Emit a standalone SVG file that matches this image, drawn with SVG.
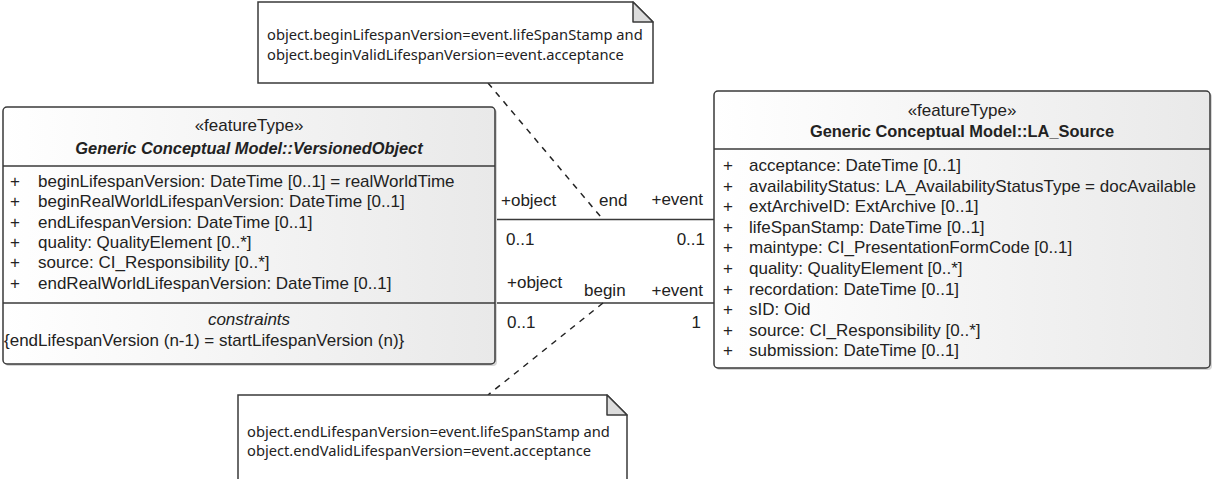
<svg xmlns="http://www.w3.org/2000/svg" width="1212" height="479" viewBox="0 0 1212 479">
<defs>
<linearGradient id="boxfill" x1="0" y1="0" x2="1" y2="0">
<stop offset="0" stop-color="#ffffff"/>
<stop offset="1" stop-color="#e9e9e9"/>
</linearGradient>
<style>
.box{fill:url(#boxfill);stroke:#3a3a3a;stroke-width:1.5}
.sep{stroke:#3a3a3a;stroke-width:1.5}
.t{font-family:"Liberation Sans",Arial,sans-serif;font-size:17px;fill:#222}
.st{font-family:"Liberation Sans",Arial,sans-serif;font-size:17px;fill:#222;text-anchor:middle}
.tb{font-family:"Liberation Sans",Arial,sans-serif;font-size:16.4px;font-weight:bold;fill:#222;text-anchor:middle}
.ti{font-style:italic}
.note{fill:#ffffff;stroke:#3a3a3a;stroke-width:1.5}
.fold{fill:#dcdcdc;stroke:#3a3a3a;stroke-width:1.5;stroke-linejoin:round}
.nt{font-family:"Noto Sans","Open Sans",sans-serif;font-size:14.7px;fill:#222}
.line{stroke:#3a3a3a;stroke-width:1.5;fill:none}
.dash{stroke:#222;stroke-width:1.5;fill:none;stroke-dasharray:6 6}
.shadow{fill:#d6d6d6}
</style>
</defs>

<g id="connectors">
<line class="line" x1="495" y1="219.5" x2="714" y2="219.5"/>
<line class="line" x1="495" y1="303" x2="714" y2="303"/>
<line class="dash" x1="488" y1="83" x2="603" y2="219.5"/>
<line class="dash" x1="603" y1="303" x2="488" y2="395"/>
<text class="t" x="501" y="205.5">+object</text>
<text class="t" x="599" y="205.5">end</text>
<text class="t" x="703" y="205" text-anchor="end">+event</text>
<text class="t" x="506" y="244.5">0..1</text>
<text class="t" x="705" y="244.5" text-anchor="end">0..1</text>
<text class="t" x="507" y="287.5">+object</text>
<text class="t" x="584" y="295.5">begin</text>
<text class="t" x="703" y="295.5" text-anchor="end">+event</text>
<text class="t" x="507" y="327.5">0..1</text>
<text class="t" x="701" y="327.5" text-anchor="end">1</text>
</g>

<g id="VersionedObject">
<rect class="shadow" x="5" y="109" width="492" height="257" rx="4"/>
<rect class="box" x="3" y="107" width="492" height="257" rx="4"/>
<line class="sep" x1="3" y1="166" x2="495" y2="166"/>
<line class="sep" x1="3" y1="303" x2="495" y2="303"/>
<text class="st" x="249" y="130.5">«featureType»</text>
<text class="tb ti" x="249" y="153.5">Generic Conceptual Model::VersionedObject</text>
<text class="t" x="10" y="187">+</text><text class="t" x="38" y="187">beginLifespanVersion: DateTime [0..1] = realWorldTime</text>
<text class="t" x="10" y="207.3">+</text><text class="t" x="38" y="207.3">beginRealWorldLifespanVersion: DateTime [0..1]</text>
<text class="t" x="10" y="227.6">+</text><text class="t" x="38" y="227.6">endLifespanVersion: DateTime [0..1]</text>
<text class="t" x="10" y="248">+</text><text class="t" x="38" y="248">quality: QualityElement [0..*]</text>
<text class="t" x="10" y="268.3">+</text><text class="t" x="38" y="268.3">source: CI_Responsibility [0..*]</text>
<text class="t" x="10" y="288.6">+</text><text class="t" x="38" y="288.6">endRealWorldLifespanVersion: DateTime [0..1]</text>
<text class="st ti" x="249" y="324.5">constraints</text>
<text class="t" x="4" y="345.5">{endLifespanVersion (n-1) = startLifespanVersion (n)}</text>
</g>

<g id="LA_Source">
<rect class="shadow" x="716" y="93" width="496" height="277" rx="4"/>
<rect class="box" x="714" y="91" width="496" height="277" rx="4"/>
<line class="sep" x1="714" y1="149" x2="1210" y2="149"/>
<text class="st" x="962" y="115.5">«featureType»</text>
<text class="tb" x="962" y="137">Generic Conceptual Model::LA_Source</text>
<text class="t" x="723" y="171">+</text><text class="t" x="749" y="171">acceptance: DateTime [0..1]</text>
<text class="t" x="723" y="191.6">+</text><text class="t" x="749" y="191.6">availabilityStatus: LA_AvailabilityStatusType = docAvailable</text>
<text class="t" x="723" y="212.2">+</text><text class="t" x="749" y="212.2">extArchiveID: ExtArchive [0..1]</text>
<text class="t" x="723" y="232.8">+</text><text class="t" x="749" y="232.8">lifeSpanStamp: DateTime [0..1]</text>
<text class="t" x="723" y="253.4">+</text><text class="t" x="749" y="253.4">maintype: CI_PresentationFormCode [0..1]</text>
<text class="t" x="723" y="274">+</text><text class="t" x="749" y="274">quality: QualityElement [0..*]</text>
<text class="t" x="723" y="294.6">+</text><text class="t" x="749" y="294.6">recordation: DateTime [0..1]</text>
<text class="t" x="723" y="315.2">+</text><text class="t" x="749" y="315.2">sID: Oid</text>
<text class="t" x="723" y="335.8">+</text><text class="t" x="749" y="335.8">source: CI_Responsibility [0..*]</text>
<text class="t" x="723" y="356.4">+</text><text class="t" x="749" y="356.4">submission: DateTime [0..1]</text>
</g>

<g id="note_begin">
<path class="note" d="M258 2 H633 L653 22 V83 H258 Z"/>
<path class="fold" d="M633 2 V22 H653 Z"/>
<text class="nt" x="267" y="40">object.beginLifespanVersion=event.lifeSpanStamp and</text>
<text class="nt" x="267" y="59.5">object.beginValidLifespanVersion=event.acceptance</text>
</g>

<g id="note_end">
<path class="note" d="M238 481 V395 H607 L627 415 V481"/>
<path class="fold" d="M607 395 V415 H627 Z"/>
<text class="nt" x="247" y="437">object.endLifespanVersion=event.lifeSpanStamp and</text>
<text class="nt" x="247" y="456">object.endValidLifespanVersion=event.acceptance</text>
</g>
</svg>
